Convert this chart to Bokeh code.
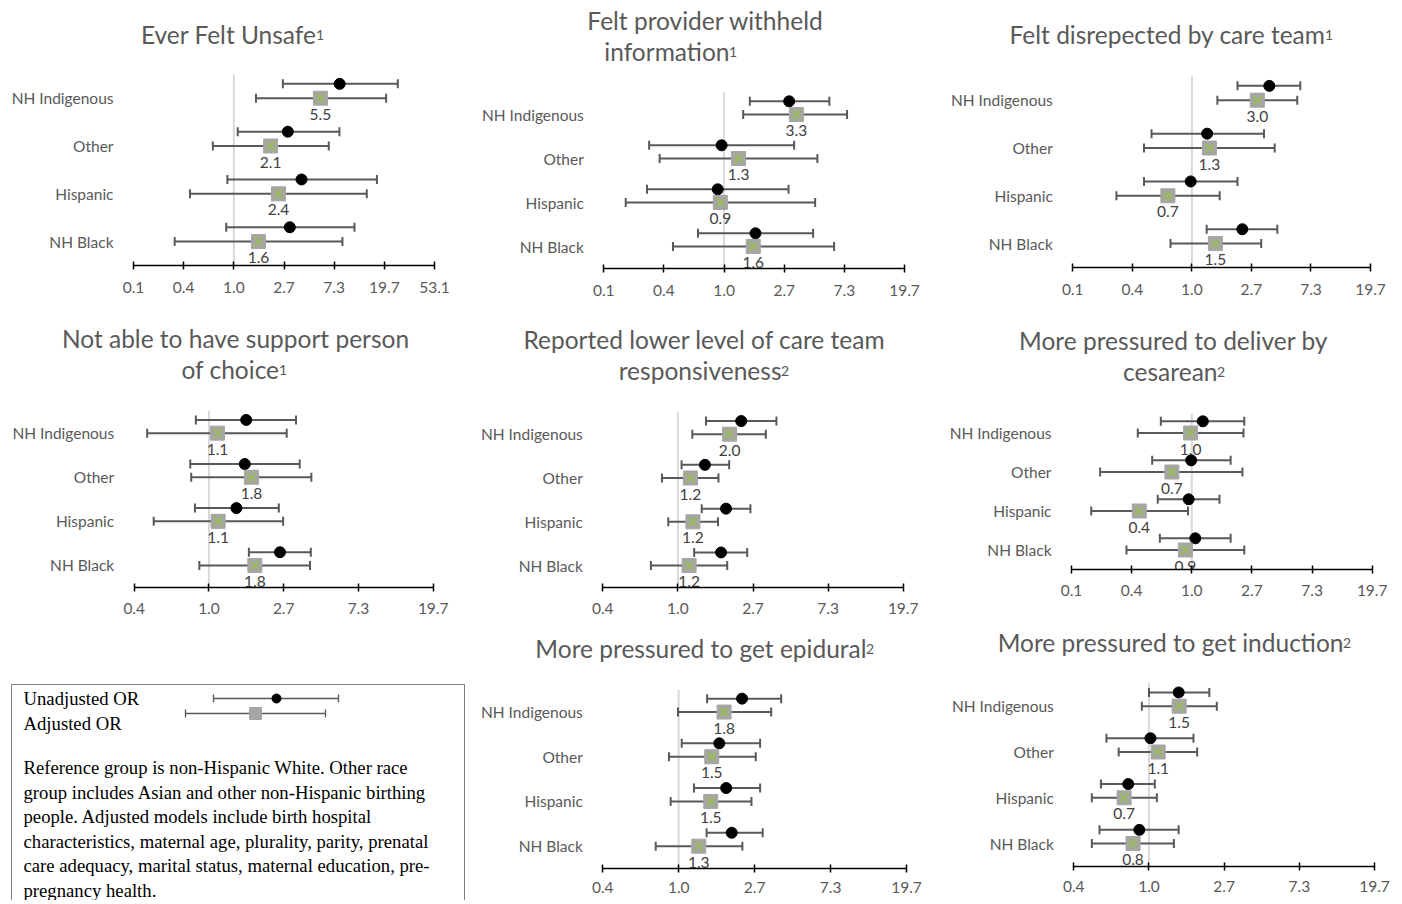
import numpy as np
from bokeh.plotting import figure
from bokeh.models import ColumnDataSource, FixedTicker, Range1d
from bokeh.layouts import row, column
from bokeh.embed import file_html
from bokeh.resources import INLINE
from bokeh.core.properties import value

FONT = "Lato"
SERIF = "Liberation Serif"

CATEGORIES = ["NH Indigenous", "Other", "Hispanic", "NH Black"]
TICK_BASE = 2.7
TICK_EXPONENTS = [-2, -1, 0, 1, 2, 3, 4]
TICK_LABELS = ["0.1", "0.4", "1.0", "2.7", "7.3", "19.7", "53.1"]

# ---- Ever felt unsafe
A_TITLE = ["Ever Felt Unsafe¹"]
A_UNADJ = [8.13, 2.91, 3.82, 3.03]
A_UNADJ_LO = [2.64, 1.08, 0.88, 0.86]
A_UNADJ_HI = [25.7, 8.09, 17.0, 10.9]
A_ADJ = [5.55, 2.07, 2.42, 1.63]
A_ADJ_LO = [1.55, 0.66, 0.42, 0.31]
A_ADJ_HI = [20.4, 6.55, 13.9, 8.59]
A_LABELS = ["5.5", "2.1", "2.4", "1.6"]
A_RANGE = (-2, 4)

# ---- Felt provider withheld information
B_TITLE = ["Felt provider withheld", "information¹"]
B_UNADJ = [2.93, 0.96, 0.90, 1.68]
B_UNADJ_LO = [1.53, 0.29, 0.28, 0.65]
B_UNADJ_HI = [5.69, 3.18, 2.90, 4.35]
B_ADJ = [3.30, 1.27, 0.94, 1.62]
B_ADJ_LO = [1.37, 0.345, 0.197, 0.43]
B_ADJ_HI = [7.62, 4.67, 4.50, 6.15]
B_LABELS = ["3.3", "1.3", "0.9", "1.6"]
B_RANGE = (-2, 3)

# ---- Felt disrespected by care team
C_TITLE = ["Felt disrepected by care team¹"]
C_UNADJ = [3.64, 1.29, 0.98, 2.32]
C_UNADJ_LO = [2.14, 0.51, 0.45, 1.28]
C_UNADJ_HI = [6.10, 3.33, 2.14, 4.16]
C_ADJ = [2.98, 1.34, 0.67, 1.48]
C_ADJ_LO = [1.53, 0.45, 0.284, 0.70]
C_ADJ_HI = [5.80, 3.98, 1.59, 3.18]
C_LABELS = ["3.0", "1.3", "0.7", "1.5"]
C_RANGE = (-2, 3)

# ---- Not able to have support person of choice
D_TITLE = ["Not able to have support person", "of choice¹"]
D_UNADJ = [1.64, 1.61, 1.44, 2.57]
D_UNADJ_LO = [0.84, 0.78, 0.83, 1.70]
D_UNADJ_HI = [3.18, 3.34, 2.53, 3.87]
D_ADJ = [1.12, 1.76, 1.13, 1.84]
D_ADJ_LO = [0.44, 0.79, 0.48, 0.88]
D_ADJ_HI = [2.81, 3.90, 2.68, 3.83]
D_LABELS = ["1.1", "1.8", "1.1", "1.8"]
D_RANGE = (-1, 3)

# ---- Reported lower level of care team responsiveness
E_TITLE = ["Reported lower level of care team", "responsiveness²"]
E_UNADJ = [2.31, 1.43, 1.89, 1.77]
E_UNADJ_LO = [1.45, 1.05, 1.37, 1.24]
E_UNADJ_HI = [3.68, 1.97, 2.61, 2.50]
E_ADJ = [1.98, 1.18, 1.22, 1.16]
E_ADJ_LO = [1.21, 0.81, 0.88, 0.70]
E_ADJ_HI = [3.20, 1.71, 1.70, 1.92]
E_LABELS = ["2.0", "1.2", "1.2", "1.2"]
E_RANGE = (-1, 3)

# ---- More pressured to deliver by cesarean
F_TITLE = ["More pressured to deliver by", "cesarean²"]
F_UNADJ = [1.20, 0.99, 0.95, 1.06]
F_UNADJ_LO = [0.60, 0.52, 0.57, 0.59]
F_UNADJ_HI = [2.38, 1.90, 1.58, 1.90]
F_ADJ = [0.98, 0.72, 0.42, 0.90]
F_ADJ_LO = [0.41, 0.22, 0.19, 0.34]
F_ADJ_HI = [2.35, 2.31, 0.94, 2.38]
F_LABELS = ["1.0", "0.7", "0.4", "0.9"]
F_RANGE = (-2, 3)

# ---- More pressured to get epidural
G_TITLE = ["More pressured to get epidural²"]
G_UNADJ = [2.29, 1.70, 1.86, 2.00]
G_UNADJ_LO = [1.45, 1.04, 1.22, 1.44]
G_UNADJ_HI = [3.82, 2.90, 2.90, 3.00]
G_ADJ = [1.81, 1.54, 1.52, 1.30]
G_ADJ_LO = [0.99, 0.88, 0.90, 0.74]
G_ADJ_HI = [3.35, 2.74, 2.59, 2.30]
G_LABELS = ["1.8", "1.5", "1.5", "1.3"]
G_RANGE = (-1, 3)

# ---- More pressured to get induction
H_TITLE = ["More pressured to get induction²"]
H_UNADJ = [1.48, 1.02, 0.76, 0.88]
H_UNADJ_LO = [1.00, 0.57, 0.53, 0.52]
H_UNADJ_HI = [2.22, 1.80, 1.08, 1.48]
H_ADJ = [1.49, 1.13, 0.72, 0.81]
H_ADJ_LO = [0.91, 0.67, 0.47, 0.47]
H_ADJ_HI = [2.45, 1.89, 1.11, 1.39]
H_LABELS = ["1.5", "1.1", "0.7", "0.8"]
H_RANGE = (-1, 3)

LEGEND_LABELS = ["Unadjusted OR", "Adjusted OR"]
NOTE_LINES = [
    "Reference group is non-Hispanic White. Other race",
    "group includes Asian and other non-Hispanic birthing",
    "people. Adjusted models include birth hospital",
    "characteristics, maternal age, plurality, parity, prenatal",
    "care adequacy, marital status, maternal education, pre-",
    "pregnancy health.",
]

# styles
GRAY_TXT = "#595959"
LBL_TXT = "#404040"
EB = "#595959"
SQ = "#a5a5a5"
XG = "#9bbb59"
REF = "#d9d9d9"
UNADJ_SHIFT = 0.3
FS = "15.5px"
TITLE_FS = "24.5px"
SUP_FS = "14px"
SUPERSCRIPTS = {"¹": "1", "²": "2"}


def make_panel(title_lines, unadj, ulo, uhi, adj, alo, ahi, labels, exp_range, geo):
    # geo: figure width, px of first tick, px length of tick span, frame height,
    #      bottom border, px per category, title centre x, x where superscript starts,
    #      first title line y, tick label standoff
    W, a, L, fh, bb, s, tcx, sx, ty, stand = geo
    n = len(CATEGORIES)
    ypos = [n - 1 - i for i in range(n)]
    src = ColumnDataSource(dict(
        cat=CATEGORIES, y_adj=ypos, y_un=[y + UNADJ_SHIFT for y in ypos],
        unadj=unadj, ulo=ulo, uhi=uhi, adj=adj, alo=alo, ahi=ahi, lab=labels))
    e0, e1 = exp_range
    u = L / (e1 - e0)
    lo_v = TICK_BASE ** e0
    hi_v = TICK_BASE ** e1
    x_start = TICK_BASE ** (e0 - a / u)
    x_end = TICK_BASE ** (e1 + (W - a - L) / u)
    y_bot = -0.5
    y_top = y_bot + fh / s
    p = figure(x_axis_type="log", x_range=Range1d(x_start, x_end), y_range=Range1d(y_bot, y_top),
               frame_width=W, frame_height=fh, title=None,
               min_border_left=0, min_border_right=0, min_border_top=0, min_border_bottom=bb,
               y_axis_location=None,
               output_backend="svg", toolbar_location=None, outline_line_color=None)
    p.xgrid.grid_line_color = None
    p.ygrid.grid_line_color = None

    exps = [e for e in TICK_EXPONENTS if e0 <= e <= e1]
    tick_vals = [TICK_BASE ** e for e in exps]
    tick_labs = [TICK_LABELS[TICK_EXPONENTS.index(e)] for e in exps]
    xa = p.xaxis[0]
    xa.ticker = FixedTicker(ticks=tick_vals, minor_ticks=[])
    xa.major_label_overrides = dict(zip(tick_vals, tick_labs))
    xa.bounds = (lo_v, hi_v)
    xa.axis_line_color = "black"
    xa.axis_line_width = 1.5
    xa.major_tick_line_color = "black"
    xa.major_tick_line_width = 1.5
    xa.major_tick_in = 4
    xa.major_tick_out = 4
    xa.minor_tick_line_color = None
    xa.major_label_text_font = FONT
    xa.major_label_text_font_size = FS
    xa.major_label_text_color = GRAY_TXT
    xa.major_label_standoff = stand

    # reference line at OR = 1
    p.segment(x0=1.0, y0=y_bot, x1=1.0, y1=n - 0.5, line_color=REF, line_width=2)
    # error bars
    for lo, hi, yb in (("ulo", "uhi", "y_un"), ("alo", "ahi", "y_adj")):
        p.segment(x0=lo, y0=yb, x1=hi, y1=yb, source=src, line_color=EB, line_width=2)
        for end in (lo, hi):
            p.scatter(end, yb, source=src, marker="dash", angle=np.pi / 2, size=9,
                      line_color=EB, line_width=2)
    p.scatter("unadj", "y_un", source=src, marker="circle", size=11,
              fill_color="black", line_color="black")
    p.scatter("adj", "y_adj", source=src, marker="square", size=14,
              fill_color=SQ, line_color=SQ)
    p.scatter("adj", "y_adj", source=src, marker="x", size=12,
              line_color=XG, line_width=2)
    p.text("adj", "y_adj", text="lab", source=src, text_align="center", text_baseline="middle",
           y_offset=16, text_font=value(FONT), text_font_size=value(FS), text_color=LBL_TXT)
    # category labels
    p.text(lo_v, "y_adj", text="cat", source=src, text_align="right", text_baseline="middle",
           x_offset=-20, text_font=value(FONT), text_font_size=value(FS), text_color=GRAY_TXT)
    # panel title (superscript note number drawn as a small raised digit)
    for i, line in enumerate(title_lines):
        yo = ty + 31 * i
        if line[-1] in SUPERSCRIPTS:
            p.text(x=[lo_v], y=[y_top], text=[line[:-1]], x_offset=sx - a - 1, y_offset=yo,
                   text_align="right", text_baseline="middle",
                   text_font=value(FONT), text_font_size=value(TITLE_FS), text_color=GRAY_TXT)
            p.text(x=[lo_v], y=[y_top], text=[SUPERSCRIPTS[line[-1]]], x_offset=sx - a - 1.5,
                   y_offset=yo + 0.5, text_align="left", text_baseline="middle",
                   text_font=value(FONT), text_font_size=value(SUP_FS), text_color=GRAY_TXT)
        else:
            p.text(x=[lo_v], y=[y_top], text=[line], x_offset=tcx - a, y_offset=yo,
                   text_align="center", text_baseline="middle",
                   text_font=value(FONT), text_font_size=value(TITLE_FS), text_color=GRAY_TXT)
    return p


pA = make_panel(A_TITLE, A_UNADJ, A_UNADJ_LO, A_UNADJ_HI, A_ADJ, A_ADJ_LO, A_ADJ_HI, A_LABELS, A_RANGE,
                (465, 133, 301, 265, 40, 47.8, 235, 317, 34, 12))
pB = make_panel(B_TITLE, B_UNADJ, B_UNADJ_LO, B_UNADJ_HI, B_ADJ, B_ADJ_LO, B_ADJ_HI, B_LABELS, B_RANGE,
                (470, 138.3, 300.7, 268, 37, 44, 240, 265, 20, 12))
pC = make_panel(C_TITLE, C_UNADJ, C_UNADJ_LO, C_UNADJ_HI, C_ADJ, C_ADJ_LO, C_ADJ_HI, C_LABELS, C_RANGE,
                (460, 137.3, 297.7, 267, 38, 47.8, 237, 391, 34, 12))
pD = make_panel(D_TITLE, D_UNADJ, D_UNADJ_LO, D_UNADJ_HI, D_ADJ, D_ADJ_LO, D_ADJ_HI, D_LABELS, D_RANGE,
                (465, 133.7, 299, 282, 34, 44.1, 235, 280, 33, 11))
pE = make_panel(E_TITLE, E_UNADJ, E_UNADJ_LO, E_UNADJ_HI, E_ADJ, E_ADJ_LO, E_ADJ_HI, E_LABELS, E_RANGE,
                (470, 137.3, 300.4, 282, 34, 43.8, 239, 317, 34, 11))
pF = make_panel(F_TITLE, F_UNADJ, F_UNADJ_LO, F_UNADJ_HI, F_ADJ, F_ADJ_LO, F_ADJ_HI, F_LABELS, F_RANGE,
                (460, 136, 300.7, 264, 52, 39, 238, 283, 35, 11))
pG = make_panel(G_TITLE, G_UNADJ, G_UNADJ_LO, G_UNADJ_HI, G_ADJ, G_ADJ_LO, G_ADJ_HI, G_LABELS, G_RANGE,
                (470, 137.3, 303.7, 247, 32, 44.7, 240, 402, 27, 9))
pH = make_panel(H_TITLE, H_UNADJ, H_UNADJ_LO, H_UNADJ_HI, H_ADJ, H_ADJ_LO, H_ADJ_HI, H_LABELS, H_RANGE,
                (460, 138.3, 300.7, 245, 34, 45.8, 240, 409, 21, 10))

# ---- legend / note box (pixel-like coordinates inside the box figure)
LW, LH = 465, 279
lg = figure(x_range=Range1d(0, LW), y_range=Range1d(LH, 0), frame_width=LW, frame_height=LH,
            title=None, min_border_left=0, min_border_right=0, min_border_top=0, min_border_bottom=0,
            x_axis_location=None, y_axis_location=None, output_backend="svg",
            toolbar_location=None, outline_line_color=None)
lg.xgrid.grid_line_color = None
lg.ygrid.grid_line_color = None
lg.line(x=[11, 11, 464, 464], y=[LH, 63, 63, LH], line_color="#7f7f7f", line_width=1)
lsrc = ColumnDataSource(dict(y=[77, 92], lo=[213, 185], hi=[338, 325]))
lg.segment(x0="lo", y0="y", x1="hi", y1="y", source=lsrc, line_color=EB, line_width=1.3)
for end in ("lo", "hi"):
    lg.scatter(end, "y", source=lsrc, marker="dash", angle=np.pi / 2, size=8,
               line_color=EB, line_width=1.3)
lg.scatter(x=[276], y=[77], marker="circle", size=9, fill_color="black", line_color="black")
lg.scatter(x=[255], y=[92], marker="square", size=12, fill_color=SQ, line_color=SQ)
lg.text(x=[23, 23], y=[77, 102], text=LEGEND_LABELS, text_align="left", text_baseline="middle",
        text_font=value(SERIF), text_font_size=value("18.7px"), text_color="black")
lg.text(x=[23] * len(NOTE_LINES), y=[146 + 24.6 * i for i in range(len(NOTE_LINES))], text=NOTE_LINES,
        text_align="left", text_baseline="middle",
        text_font=value(SERIF), text_font_size=value("18.7px"), text_color="black")

p = column(row(pA, pB, pC), row(pD, pE, pF), row(lg, pG, pH))
open("out.html", "w").write(file_html(p, INLINE))
